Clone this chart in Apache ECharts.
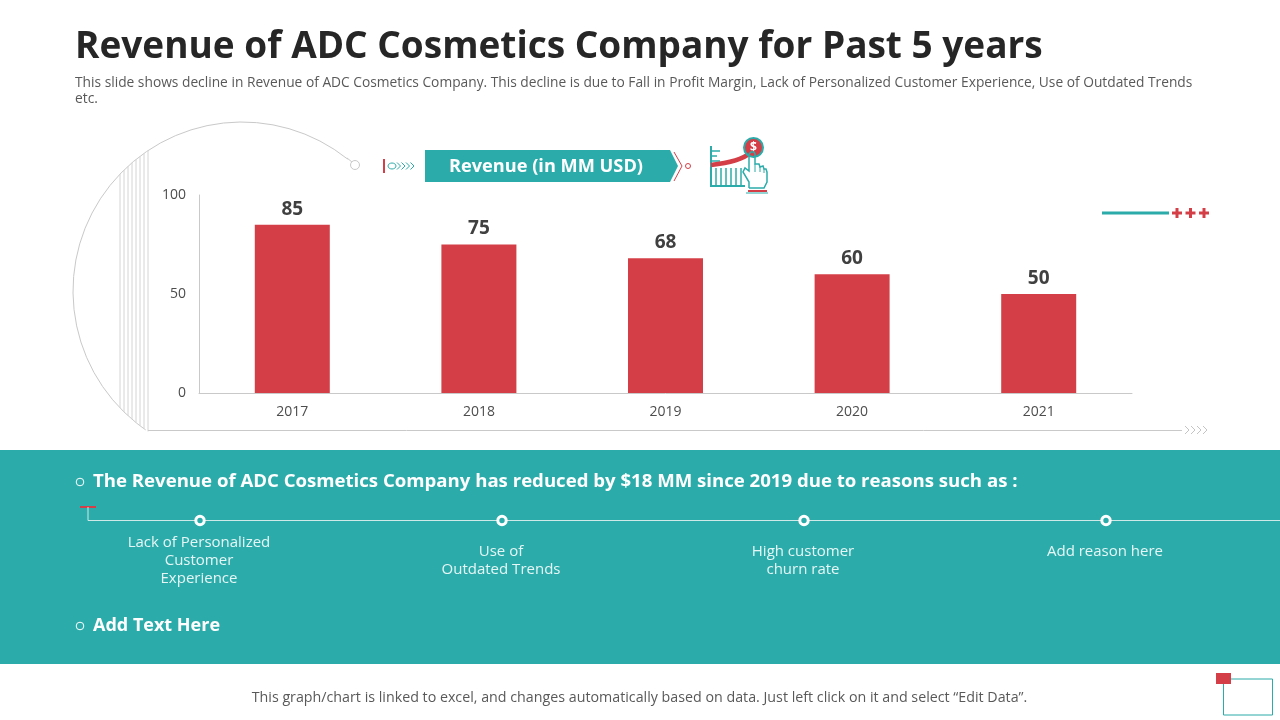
<!DOCTYPE html>
<html>
<head>
<meta charset="utf-8">
<title>Revenue of ADC Cosmetics Company</title>
<script src="https://cdn.jsdelivr.net/npm/echarts@6/dist/echarts.min.js"></script>
<style>
html, body { margin: 0; padding: 0; background: #fff; }
#chart { width: 1280px; height: 720px; }
</style>
</head>
<body>
<div id="chart"></div>
<script>
var years = ['2017', '2018', '2019', '2020', '2021'];
var revenue = [85, 75, 68, 60, 50];
var reasons = [
    'Lack of Personalized\nCustomer\nExperience',
    'Use of\nOutdated Trends',
    'High customer\nchurn rate',
    'Add reason here'
];

var TEAL = '#2bacaa';
var RED = '#d43f47';
var GREY = '#c9c9c9';
var FONT = '"Open Sans", Lato, sans-serif';

var marks = [];

function line(points, color, width) {
    marks.push({
        type: 'polyline',
        silent: true,
        shape: { points: points },
        style: { stroke: color, lineWidth: width, fill: null }
    });
}

function circle(cx, cy, r, stroke, width, fill) {
    marks.push({
        type: 'circle',
        silent: true,
        shape: { cx: cx, cy: cy, r: r },
        style: { stroke: stroke, lineWidth: width, fill: fill || 'transparent' }
    });
}

function label(text, x, y, size, color, weight, align, lineHeight) {
    marks.push({
        type: 'text',
        silent: true,
        x: x,
        y: y,
        style: {
            text: text,
            fill: color,
            font: (weight || 'normal') + ' ' + size + 'px ' + FONT,
            align: align || 'left',
            verticalAlign: 'middle',
            lineHeight: lineHeight || 18
        }
    });
}

function chevrons(x, y, count, step, h, color) {
    for (var i = 0; i < count; i++) {
        line([[x + i * step, y - h], [x + i * step + h, y], [x + i * step, y + h]], color, 1);
    }
}

// 面板和页脚
marks.push({
    type: 'rect',
    silent: true,
    shape: { x: 0, y: 450, width: 1280, height: 214 },
    style: { fill: TEAL }
});

// 左侧圆弧和竖线
marks.push({
    type: 'arc',
    silent: true,
    shape: {
        cx: 242, cy: 291, r: 169,
        startAngle: -Math.PI * 0.285,
        endAngle: Math.PI * 0.693,
        clockwise: false
    },
    style: { stroke: GREY, lineWidth: 1, fill: null }
});
[120, 124, 128, 132, 136, 140, 144, 148].forEach(function (x) {
    var dy = Math.sqrt(169 * 169 - (242 - x) * (242 - x));
    line([[x, 291 - dy], [x, 291 + dy]], '#d4d4d4', 1);
});
line([[148, 430.5], [1182, 430.5]], GREY, 1);
chevrons(1185, 430, 4, 6, 4, '#c4c4c4');
line([[347, 158], [352, 162]], GREY, 1);
circle(355, 165, 4.5, GREY, 1, '#fff');

// 标题条
line([[384, 159], [384, 173]], RED, 2);
marks.push({
    type: 'ellipse',
    silent: true,
    shape: { cx: 392, cy: 166, rx: 4, ry: 3 },
    style: { stroke: TEAL, lineWidth: 1, fill: 'transparent' }
});
chevrons(397, 166, 4, 4.5, 3.5, TEAL);
marks.push({
    type: 'polygon',
    silent: true,
    shape: { points: [[425, 150], [670, 150], [678, 166], [670, 182], [425, 182]] },
    style: { fill: TEAL }
});
label('Revenue (in MM USD)', 546, 166.5, 18.2, '#fff', 'bold', 'center');
line([[674, 152], [682, 166], [674, 181]], RED, 1);
circle(688, 166, 2.5, RED, 1);

// 图标
line([[711, 146], [711, 186], [745, 186]], TEAL, 2);
line([[711, 151], [720, 151]], TEAL, 1.5);
line([[711, 156], [717, 156]], TEAL, 1.5);
line([[711, 161], [720, 161]], TEAL, 1.5);
[716, 721, 726, 731, 736, 741].forEach(function (x) {
    line([[x, 168], [x, 186]], TEAL, 1.5);
});
marks.push({
    type: 'bezierCurve',
    silent: true,
    shape: { x1: 711, y1: 165, x2: 750, y2: 153, cpx1: 728, cpy1: 163, cpx2: 742, cpy2: 160 },
    style: { stroke: RED, lineWidth: 4.5, fill: null }
});
circle(753.5, 147.5, 9.5, TEAL, 2, RED);
marks.push({
    type: 'text',
    silent: true,
    x: 753.5,
    y: 147.5,
    style: { text: '$', fill: '#fff', font: 'bold 12px ' + FONT, align: 'center', verticalAlign: 'middle' }
});
// 手形
line([[749, 188], [749, 182], [743, 172], [745, 168], [749, 171], [749, 154], [751, 152], [754, 152], [755, 154], [755, 164], [759, 164], [760, 167], [763, 166], [764, 169], [766, 169], [767, 172], [767, 182], [764, 188], [749, 188]], TEAL, 1.5);
line([[755, 164], [755, 172]], TEAL, 1);
line([[760, 167], [760, 172]], TEAL, 1);
line([[764, 169], [764, 173]], TEAL, 1);
line([[748, 191], [767, 191]], RED, 2);
line([[746, 193], [768, 193]], TEAL, 1);

// 右上角装饰
line([[1102, 213], [1169, 213]], TEAL, 3);
[1177, 1190.5, 1204].forEach(function (x) {
    line([[x - 5, 213], [x + 5, 213]], RED, 3);
    line([[x, 208], [x, 218]], RED, 3);
});

// 面板内容
circle(80, 482, 3.8, '#fff', 1);
label('The Revenue of ADC Cosmetics Company has reduced by $18 MM since 2019 due to reasons such as :', 93, 481.5, 18.6, '#fff', 'bold');
line([[80, 507], [96, 507]], RED, 2);
line([[88, 507], [88, 520.5], [1280, 520.5]], '#cfe9e8', 1);
[200, 502, 804, 1106].forEach(function (x, i) {
    circle(x, 520.5, 4.2, '#fff', 3, TEAL);
    label(reasons[i], x - 1, i === 3 ? 551.5 : 561, 15, '#e6f6f5', 'normal', 'center');
});
circle(80, 626, 3.8, '#fff', 1);
label('Add Text Here', 93, 625.5, 18, '#fff', 'bold');

// 页脚
label('This graph/chart is linked to excel, and changes automatically based on data. Just left click on it and select \u201cEdit Data\u201d.', 639.5, 698, 14.25, '#595959', 'normal', 'center');
marks.push({
    type: 'rect',
    silent: true,
    shape: { x: 1223.5, y: 679, width: 49, height: 36 },
    style: { stroke: TEAL, lineWidth: 1, fill: 'transparent' }
});
marks.push({
    type: 'rect',
    silent: true,
    shape: { x: 1216, y: 673, width: 15, height: 11 },
    style: { fill: RED }
});

var subtitle = 'This slide shows decline in Revenue of ADC Cosmetics Company. This decline is due to Fall in Profit Margin, Lack of Personalized Customer Experience, Use of Outdated Trends\netc.';
label(subtitle, 75, 91.5, 13.77, '#595959', 'normal', 'left', 16);

var myChart = echarts.init(document.getElementById('chart'));
var option = {
    animation: false,
    backgroundColor: '#fff',
    title: {
        text: 'Revenue of ADC Cosmetics Company for Past 5 years',
        left: 75,
        top: 29,
        padding: 0,
        textStyle: {
            fontFamily: FONT,
            fontSize: 37,
            fontWeight: 'bold',
            color: '#262626'
        }
    },
    grid: { left: 199, right: 148, top: 195, bottom: 327 },
    xAxis: {
        type: 'category',
        data: years,
        axisTick: { show: false },
        axisLine: { lineStyle: { color: GREY, width: 1 } },
        axisLabel: { color: '#4d4d4d', fontFamily: FONT, fontSize: 14, margin: 12 }
    },
    yAxis: {
        type: 'value',
        min: 0,
        max: 100,
        interval: 50,
        splitLine: { show: false },
        axisTick: { show: false },
        axisLine: { show: true, lineStyle: { color: GREY, width: 1 } },
        axisLabel: { color: '#4d4d4d', fontFamily: FONT, fontSize: 14, margin: 13, padding: [4, 0, 0, 0] }
    },
    graphic: marks,
    series: [{
        type: 'bar',
        data: revenue,
        barWidth: 75,
        itemStyle: { color: RED },
        label: {
            show: true,
            position: 'top',
            distance: 6,
            color: '#404040',
            fontFamily: FONT,
            fontSize: 19,
            fontWeight: 'bold'
        }
    }]
};
myChart.setOption(option);
</script>
</body>
</html>
